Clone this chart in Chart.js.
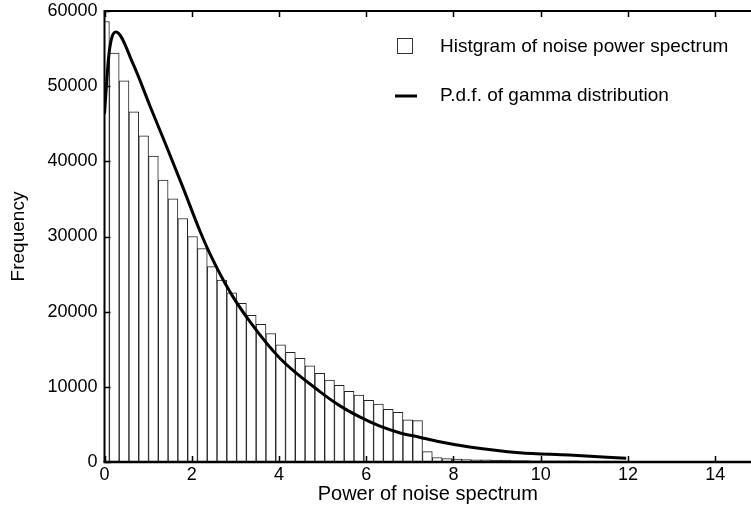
<!DOCTYPE html>
<html>
<head>
<meta charset="utf-8">
<script src="https://cdn.jsdelivr.net/npm/chart.js@4.4.1/dist/chart.umd.min.js"></script>
<style>
  html, body { margin: 0; padding: 0; background: #fff; }
  #wrap { width: 751px; height: 512px; }
</style>
</head>
<body>
<div id="wrap"><canvas id="chart" width="751" height="512"></canvas></div>
<script>
// histogram bins (bin k is centred on k * binWidth)
const binWidth = 0.2243;
const binCounts = [
  58600, 54400, 50700, 46600, 43400, 40700, 37500, 35000, 32400, 30000,
  28400, 26000, 24200, 22500, 21100, 19500, 18300, 17100, 15600, 14600,
  13800, 12800, 11800, 10900, 10200, 9400, 8900, 8200, 7700, 7000,
  6600, 5600, 5500, 1370, 600, 450, 380, 330, 300, 280,
  270, 260, 200, 180, 170, 160, 150, 150, 140, 130,
  120, 120, 110, 100, 90, 80
];

// gamma p.d.f. curve
const pdfX = [0, 0.09, 0.16, 0.26, 0.66, 1.04, 1.42, 1.80, 2.19, 2.41, 2.87, 3.33,
  4.02, 4.93, 5.39, 5.85, 6.30, 6.76, 7.22, 7.68, 8.37, 9.51, 10.65, 11.96];
const pdfY = [46300, 53600, 56300, 57200, 52900, 47400, 42000, 36500, 30700, 27800, 22700, 18700,
  13800, 9400, 7500, 6000, 4800, 3900, 3300, 2700, 2000, 1240, 930, 490];

const xTicks = [0, 2, 4, 6, 8, 10, 12, 14];
const yTicks = [0, 10000, 20000, 30000, 40000, 50000, 60000];
const legendLabels = ['Histgram of noise power spectrum', 'P.d.f. of gamma distribution'];

const FONT = '"Liberation Sans", Arial, Helvetica, sans-serif';

// frame, inward ticks and the legend
const frameAndLegend = {
  id: 'frameAndLegend',
  afterDraw(chart) {
    const { ctx, chartArea: a, scales: { x, y } } = chart;
    ctx.save();
    ctx.strokeStyle = '#000';
    ctx.lineWidth = 2;
    ctx.beginPath();
    ctx.moveTo(a.right + 2, a.top);
    ctx.lineTo(a.left, a.top);
    ctx.lineTo(a.left, a.bottom);
    ctx.stroke();
    ctx.lineWidth = 2.5;
    ctx.beginPath();
    ctx.moveTo(a.left - 1, a.bottom);
    ctx.lineTo(a.right + 2, a.bottom);
    ctx.stroke();

    ctx.lineWidth = 1.5;
    ctx.beginPath();
    xTicks.forEach((v) => {
      const px = Math.round(x.getPixelForValue(v)) + 0.5;
      ctx.moveTo(px, a.bottom);
      ctx.lineTo(px, a.bottom - 6);
      ctx.moveTo(px, a.top);
      ctx.lineTo(px, a.top + 6);
    });
    yTicks.forEach((v) => {
      const py = Math.round(y.getPixelForValue(v)) + 0.5;
      ctx.moveTo(a.left, py);
      ctx.lineTo(a.left + 6, py);
    });
    ctx.stroke();

    // legend
    ctx.font = '19px ' + FONT;
    ctx.fillStyle = '#000';
    ctx.textBaseline = 'middle';
    ctx.textAlign = 'left';
    ctx.strokeStyle = '#333';
    ctx.lineWidth = 1;
    ctx.strokeRect(397.5, 38.5, 15, 15);
    ctx.fillText(legendLabels[0], 440, 47);
    ctx.strokeStyle = '#000';
    ctx.lineWidth = 3;
    ctx.beginPath();
    ctx.moveTo(395, 96);
    ctx.lineTo(417, 96);
    ctx.stroke();
    ctx.fillText(legendLabels[1], 440, 96);
    ctx.restore();
  }
};

new Chart(document.getElementById('chart'), {
  type: 'bar',
  data: {
    datasets: [
      {
        type: 'line',
        label: legendLabels[1],
        data: pdfX.map((v, i) => ({ x: v, y: pdfY[i] })),
        borderColor: '#000',
        borderWidth: 3,
        pointRadius: 0,
        cubicInterpolationMode: 'monotone',
        fill: false,
        order: 0
      },
      {
        type: 'bar',
        label: legendLabels[0],
        data: binCounts.map((v, i) => ({ x: i * binWidth, y: v })),
        backgroundColor: '#fff',
        borderColor: '#222',
        borderWidth: 1,
        barPercentage: 1,
        categoryPercentage: 1,
        order: 1
      }
    ]
  },
  options: {
    responsive: false,
    animation: false,
    devicePixelRatio: 1,
    layout: { padding: { top: 11, left: 0, right: 0, bottom: 0 } },
    plugins: { legend: { display: false }, tooltip: { enabled: false } },
    scales: {
      x: {
        type: 'linear',
        min: 0,
        max: 14.82,
        offset: false,
        grid: { display: false, offset: false },
        border: { display: false },
        afterBuildTicks: (s) => { s.ticks = xTicks.map((v) => ({ value: v })); },
        afterFit: (s) => { s.height = 50; },
        ticks: { color: '#000', padding: -6, maxRotation: 0, font: { family: FONT, size: 18 }, callback: (v) => String(v) },
        title: { display: true, text: 'Power of noise spectrum', color: '#000', padding: { top: 0, bottom: 6 }, font: { family: FONT, size: 20 } }
      },
      y: {
        min: 0,
        max: 60000,
        grid: { display: false },
        border: { display: false },
        afterBuildTicks: (s) => { s.ticks = yTicks.map((v) => ({ value: v })); },
        afterFit: (s) => { s.width = 104.5; },
        ticks: { color: '#000', padding: -1, font: { family: FONT, size: 18 }, callback: (v) => String(v) },
        title: { display: true, text: 'Frequency', color: '#000', padding: { top: 7, bottom: 0 }, font: { family: FONT, size: 19 } }
      }
    }
  },
  plugins: [frameAndLegend]
});
</script>
</body>
</html>
